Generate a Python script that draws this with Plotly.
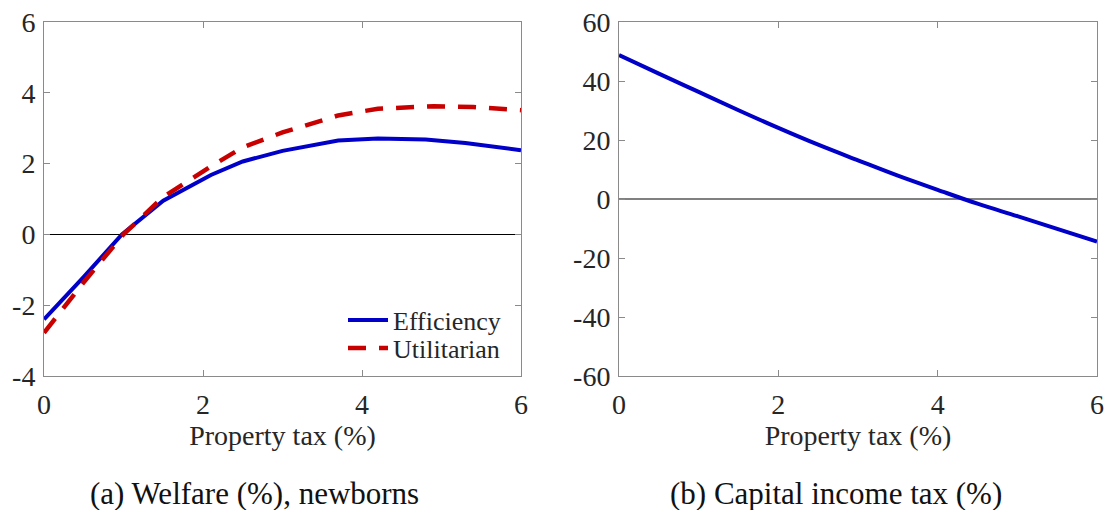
import plotly.graph_objects as go
from plotly.subplots import make_subplots

# Panel (a): welfare of newborns (%)
x_eff = [0.0, 0.5, 0.98, 1.5, 2.1, 2.5, 3.0, 3.7, 4.2, 4.8, 5.3, 6.0]
y_eff = [-2.4, -1.2, 0.0, 0.95, 1.68, 2.06, 2.36, 2.65, 2.71, 2.68, 2.58, 2.38]
x_util = [0.0, 0.5, 1.0, 1.5, 2.1, 2.5, 3.0, 3.7, 4.2, 4.9, 5.4, 6.0]
y_util = [-2.78, -1.35, 0.0, 1.06, 1.92, 2.46, 2.88, 3.36, 3.55, 3.62, 3.6, 3.51]

# Panel (b): capital income tax (%)
x_cap = [0.0, 0.5, 1.0, 1.5, 2.0, 2.5, 3.0, 3.5, 4.0, 4.5, 5.0, 5.5, 6.0]
y_cap = [48.8, 42.5, 36.3, 30.1, 24.1, 18.4, 13.1, 7.9, 3.1, -1.6, -5.8, -10.1, -14.4]

x_ticks = [0, 2, 4, 6]
x_ticktext = ["0", "2", "4", "6"]
ya_ticks = [-4, -2, 0, 2, 4, 6]
ya_ticktext = ["-4", "-2", "0", "2", "4", "6"]
yb_ticks = [-60, -40, -20, 0, 20, 40, 60]
yb_ticktext = ["-60", "-40", "-20", "0", "20", "40", "60"]

BLUE = "#0000C8"
RED = "#C80000"
SERIF = "Liberation Serif"
TXT = "#262626"
AX = "#8a8a8a"

fig = make_subplots(rows=1, cols=2)

fig.add_trace(go.Scatter(x=x_eff, y=y_eff, mode="lines", name="Efficiency", legend="legend",
                         line=dict(color=BLUE, width=4)), row=1, col=1)
fig.add_trace(go.Scatter(x=x_util, y=y_util, mode="lines", name="Utilitarian", legend="legend2",
                         line=dict(color=RED, width=4.5, dash="18px,13px")), row=1, col=1)
fig.add_trace(go.Scatter(x=x_cap, y=y_cap, mode="lines", name="Capital income tax",
                         showlegend=False, line=dict(color=BLUE, width=4, shape="spline")),
              row=1, col=2)

axis_common = dict(showline=True, linecolor=AX, linewidth=1, mirror="allticks",
                   ticks="inside", ticklen=6, tickcolor=AX, showgrid=False, automargin=False,
                   tickfont=dict(family=SERIF, size=28, color=TXT))

fig.update_xaxes(**axis_common, range=[0, 6], tickvals=x_ticks, ticktext=x_ticktext,
                 zeroline=False, ticklabelstandoff=3,
                 title=dict(text="Property tax (%)", font=dict(family=SERIF, size=28, color=TXT),
                            standoff=2))
fig.update_xaxes(domain=[44/1107, 521/1107], row=1, col=1)
fig.update_xaxes(domain=[619/1107, 1097/1107], row=1, col=2)

fig.update_yaxes(**axis_common, ticklabelstandoff=2)
fig.update_yaxes(range=[-4, 6], tickvals=ya_ticks, ticktext=ya_ticktext, zeroline=True,
                 zerolinecolor="#000000", zerolinewidth=1, row=1, col=1)
fig.update_yaxes(range=[-60, 60], tickvals=yb_ticks, ticktext=yb_ticktext, zeroline=True,
                 zerolinecolor="#808080", zerolinewidth=1.5, row=1, col=2)
fig.update_yaxes(domain=[(510-376)/510, (510-22)/510])

fig.add_annotation(text="(a) Welfare (%), newborns", x=254/1107, y=(510-493)/510,
                   xref="paper", yref="paper", showarrow=False, xanchor="center", yanchor="middle",
                   font=dict(family=SERIF, size=31, color="#111111"))
fig.add_annotation(text="(b) Capital income tax (%)", x=836/1107, y=(510-493)/510,
                   xref="paper", yref="paper", showarrow=False, xanchor="center", yanchor="middle",
                   font=dict(family=SERIF, size=31, color="#111111"))

leg_common = dict(xanchor="left", yanchor="middle", bgcolor="rgba(0,0,0,0)",
                  font=dict(family=SERIF, size=26, color=TXT), itemwidth=40)
fig.update_layout(
    width=1107, height=510,
    margin=dict(l=0, r=0, t=0, b=0),
    paper_bgcolor="white", plot_bgcolor="white",
    font=dict(family=SERIF, color=TXT),
    showlegend=True,
    legend=dict(x=343/1107, y=(510-320)/510, **leg_common),
    legend2=dict(x=343/1107, y=(510-348)/510, **leg_common),
)

fig.write_html("out.html", config={"displayModeBar": False},
               post_script="document.body.style.margin='0';document.body.style.overflow='hidden';")
